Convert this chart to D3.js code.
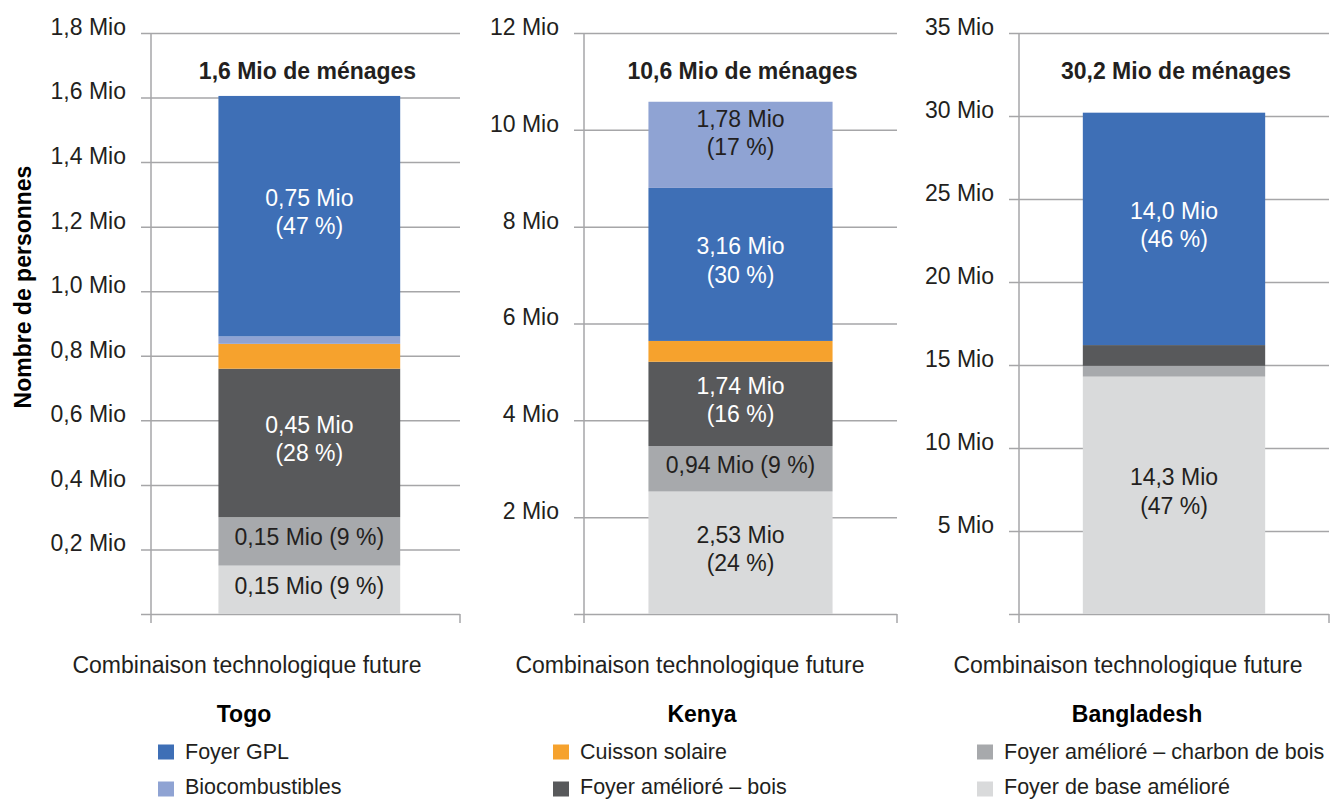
<!DOCTYPE html>
<html>
<head>
<meta charset="utf-8">
<script src="https://cdn.jsdelivr.net/npm/d3@7"></script>
<style>
  body { margin: 0; background: #fff; }
  text { font-family: "Liberation Sans", Arial, sans-serif; }
</style>
</head>
<body>
<div id="grafica"></div>
<script>
// --- data ---
var countries = ["Togo", "Kenya", "Bangladesh"];
var householdTitles = ["1,6 Mio de ménages", "10,6 Mio de ménages", "30,2 Mio de ménages"];
var categoryName = "Combinaison technologique future";
var technologies = ["Foyer GPL", "Biocombustibles", "Cuisson solaire",
                    "Foyer amélioré – bois", "Foyer amélioré – charbon de bois", "Foyer de base amélioré"];

var togoValues       = [0.745, 0.023, 0.077, 0.46, 0.15, 0.15];
var kenyaValues      = [3.16, 1.78, 0.43, 1.74, 0.94, 2.53];
var bangladeshValues = [14.0, 0, 0, 1.25, 0.65, 14.3];

var togoLabels       = ["0,75 Mio\n(47 %)", "", "", "0,45 Mio\n(28 %)", "0,15 Mio (9 %)", "0,15 Mio (9 %)"];
var kenyaLabels      = ["3,16 Mio\n(30 %)", "1,78 Mio\n(17 %)", "", "1,74 Mio\n(16 %)", "0,94 Mio (9 %)", "2,53 Mio\n(24 %)"];
var bangladeshLabels = ["14,0 Mio\n(46 %)", "", "", "", "", "14,3 Mio\n(47 %)"];

// stacking order, bottom to top (indices into technologies)
var togoOrder       = [5, 4, 3, 2, 1, 0];
var kenyaOrder      = [5, 4, 3, 2, 0, 1];
var bangladeshOrder = [5, 4, 3, 2, 1, 0];

var togoTicks       = [0, 0.2, 0.4, 0.6, 0.8, 1.0, 1.2, 1.4, 1.6, 1.8];
var kenyaTicks      = [0, 2, 4, 6, 8, 10, 12];
var bangladeshTicks = [0, 5, 10, 15, 20, 25, 30, 35];

// --- styles ---
var colors = ["#3e6fb6", "#8fa3d3", "#f6a22d", "#58595b", "#a7a9ac", "#d9dadb"];
var labelColors = ["#ffffff", "#231f20", "#231f20", "#ffffff", "#231f20", "#231f20"];
var gridColor = "#a6a6a8";
var textColor = "#231f20";
var fontSize = 23;

var panels = [
  {values: togoValues, labels: togoLabels, order: togoOrder, ticks: togoTicks, fmt: d3.format(".1f")},
  {values: kenyaValues, labels: kenyaLabels, order: kenyaOrder, ticks: kenyaTicks, fmt: d3.format("d")},
  {values: bangladeshValues, labels: bangladeshLabels, order: bangladeshOrder, ticks: bangladeshTicks, fmt: d3.format("d")}
];

var panelX = [151, 584, 1019],
    panelW = [309, 313, 310],
    barAlign = [0.53, 0.5, 0.5],
    catX = [247, 690, 1128],
    countryX = [244, 702, 1137],
    plotTop = 33, plotBottom = 614;

var svg = d3.select("#grafica")
  .append("svg")
  .attr("width", 1330)
  .attr("height", 799);

panels.forEach(function(p, i) {
  var w = panelW[i];
  var g = svg.append("g").attr("transform", "translate(" + panelX[i] + ",0)");

  var y = d3.scaleLinear()
    .domain([0, d3.max(p.ticks)])
    .range([plotBottom, plotTop]);
  var x = d3.scaleBand()
    .domain([categoryName])
    .range([0, w])
    .paddingOuter(0.35)
    .align(barAlign[i]);

  // gridlines + tick labels
  g.append("g")
    .attr("transform", "translate(-10,0)")
    .call(d3.axisLeft(y)
      .tickValues(p.ticks)
      .tickSize(-(w + 10))
      .tickPadding(15)
      .tickFormat(function(d) { return d === 0 ? "" : p.fmt(d).replace(".", ",") + " Mio"; }))
    .call(function(a) { a.select(".domain").remove(); })
    .call(function(a) {
      a.selectAll("line").attr("stroke", gridColor).attr("stroke-width", 1.5);
    })
    .call(function(a) {
      a.selectAll("text")
        .attr("font-size", fontSize)
        .attr("font-family", "Liberation Sans, Arial, sans-serif")
        .attr("fill", textColor)
        .attr("dy", "0.06em");
    });

  // stacked segments
  var cum = 0;
  var segs = p.order.map(function(k) {
    var s = {k: k, y0: cum, y1: cum + p.values[k]};
    cum += p.values[k];
    return s;
  }).filter(function(s) { return s.y1 > s.y0; });

  g.selectAll("rect.seg")
    .data(segs)
    .enter()
    .append("rect")
      .attr("class", "seg")
      .attr("x", x(categoryName))
      .attr("width", x.bandwidth())
      .attr("y", function(d) { return y(d.y1); })
      .attr("height", function(d) { return y(d.y0) - y(d.y1); })
      .attr("fill", function(d) { return colors[d.k]; });

  // axis lines
  g.append("line")
    .attr("x1", 0).attr("x2", 0)
    .attr("y1", y(d3.max(p.ticks))).attr("y2", y(0) + 9)
    .attr("stroke", gridColor).attr("stroke-width", 1.5);
  g.append("line")
    .attr("x1", w).attr("x2", w)
    .attr("y1", y(0)).attr("y2", y(0) + 9)
    .attr("stroke", gridColor).attr("stroke-width", 1.5);

  // segment labels
  segs.forEach(function(s, j) {
    var txt = p.labels[s.k];
    if (!txt) return;
    var lines = txt.split("\n");
    // the top label in Kenya sits a bit higher than the middle
    var shift = (i === 1 && j === segs.length - 1) ? 12 : 4;
    var cy = (y(s.y0) + y(s.y1)) / 2 - shift;
    var t = g.append("text")
      .attr("text-anchor", "middle")
      .attr("font-size", fontSize)
      .attr("fill", labelColors[s.k]);
    lines.forEach(function(l, n) {
      t.append("tspan")
        .attr("x", x(categoryName) + x.bandwidth() / 2)
        .attr("y", cy + 8 + (n - (lines.length - 1) / 2) * 28.5)
        .text(l);
    });
  });

  // households title
  g.append("text")
    .attr("x", w / 2 + 2)
    .attr("y", 79)
    .attr("text-anchor", "middle")
    .attr("font-size", fontSize)
    .attr("font-weight", "bold")
    .attr("fill", textColor)
    .text(householdTitles[i]);

  // category + country labels
  svg.append("text")
    .attr("x", catX[i])
    .attr("y", 673)
    .attr("text-anchor", "middle")
    .attr("font-size", fontSize)
    .attr("fill", textColor)
    .text(categoryName);
  svg.append("text")
    .attr("x", countryX[i])
    .attr("y", 722)
    .attr("text-anchor", "middle")
    .attr("font-size", fontSize)
    .attr("font-weight", "bold")
    .attr("fill", "#000")
    .text(countries[i]);
});

// y title
svg.append("text")
  .attr("transform", "translate(31,287) rotate(-90)")
  .attr("text-anchor", "middle")
  .attr("font-size", fontSize)
  .attr("font-weight", "bold")
  .attr("fill", "#000")
  .text("Nombre de personnes");

// legend, column-major
var legendX = [158, 553, 977],
    legendY = [752, 789];
var legend = svg.selectAll("g.leg")
  .data(technologies)
  .enter()
  .append("g")
    .attr("class", "leg")
    .attr("transform", function(d, i) {
      return "translate(" + legendX[Math.floor(i / 2)] + "," + legendY[i % 2] + ")";
    });
legend.append("rect")
  .attr("x", 0).attr("y", -7.5)
  .attr("width", 16).attr("height", 15)
  .attr("fill", function(d, i) { return colors[i]; });
legend.append("text")
  .attr("x", 27)
  .attr("y", function(d, i) { return i % 2 ? 5 : 7; })
  .attr("font-size", 21.5)
  .attr("fill", textColor)
  .text(function(d) { return d; });
</script>
</body>
</html>
